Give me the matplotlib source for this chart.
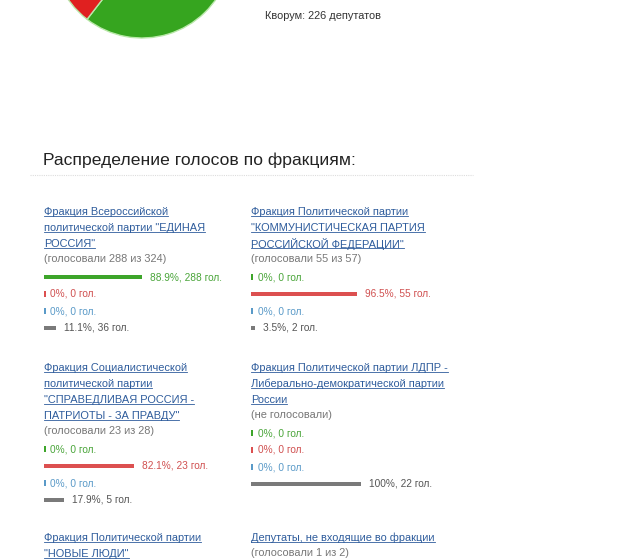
import matplotlib
matplotlib.use("Agg")
import matplotlib.pyplot as plt

plt.rcParams['font.family'] = ['Liberation Sans', 'DejaVu Sans']

pie_values = [272, 146, 0, 32]
pie_colors = ['#36a51f', '#e02020', '#3b8fd0', '#9a9a9a']

factions = [
    ["Фракция Всероссийской", "политической партии \"ЕДИНАЯ", "РОССИЯ\""],
    ["Фракция Политической партии", "\"КОММУНИСТИЧЕСКАЯ ПАРТИЯ", "РОССИЙСКОЙ ФЕДЕРАЦИИ\""],
    ["Фракция Социалистической", "политической партии", "\"СПРАВЕДЛИВАЯ РОССИЯ -", "ПАТРИОТЫ - ЗА ПРАВДУ\""],
    ["Фракция Политической партии ЛДПР -", "Либерально-демократической партии", "России"],
    ["Фракция Политической партии", "\"НОВЫЕ ЛЮДИ\""],
    ["Депутаты, не входящие во фракции"],
]
voted = ["(голосовали 288 из 324)", "(голосовали 55 из 57)", "(голосовали 23 из 28)",
         "(не голосовали)", None, "(голосовали 1 из 2)"]
# order: за, против, воздержались, не голосовали
pct = [[88.9, 0, 0, 11.1], [0, 96.5, 0, 3.5], [0, 82.1, 0, 17.9], [0, 0, 0, 100]]
votes = [[288, 0, 0, 36], [0, 55, 0, 2], [0, 23, 0, 5], [0, 0, 0, 22]]
pct_labels = [["88.9%", "0%", "0%", "11.1%"], ["0%", "96.5%", "0%", "3.5%"],
              ["0%", "82.1%", "0%", "17.9%"], ["0%", "0%", "0%", "100%"]]

bar_colors = ['#3da52a', '#dc5050', '#5a9ac8', '#7a7a7a']
text_colors = ['#4aa53a', '#d05050', '#5a9ac8', '#555555']
link = '#2e5c9c'

fig = plt.figure(figsize=(6.25, 5.6), dpi=100)
ax = fig.add_axes([0, 0, 1, 1])

ax.pie(pie_values, colors=pie_colors, center=(142, -52), radius=90, startangle=-90,
       counterclock=True, wedgeprops=dict(linewidth=1, edgecolor='#b8e8a8'))
ax.set_xlim(0, 625)
ax.set_ylim(560, 0)
ax.set_aspect('auto')
ax.axis('off')

ax.text(265, 16, "Кворум: 226 депутатов", fontsize=7.9, color='#333333', va='center')
ax.text(43, 160, "Распределение голосов по фракциям:", fontsize=12.6, color='#222222', va='center')
ax.plot([30, 473], [175, 175], color='#dddddd', lw=0.8, ls=(0, (1, 1)))

lh = 16
fs = 7.9
blocks = [(44, 212), (251, 212), (44, 368), (251, 368), (44, 538), (251, 538)]
texts_to_underline = []
for i, (x0, y0) in enumerate(blocks):
    y = y0
    for line in factions[i]:
        t = ax.text(x0, y, line, fontsize=fs, color=link, va='center')
        texts_to_underline.append(t)
        y += lh
    if voted[i] is not None:
        ax.text(x0, y - 1, voted[i], fontsize=fs, color='#777777', va='center')
        y += 17
    if i < 4:
        for k in range(4):
            w = max(pct[i][k] * 1.1, 1.5)
            ax.barh(y, w, left=x0, height=4.5 if pct[i][k] > 0 else 6, color=bar_colors[k])
            ax.text(x0 + w + (8 if pct[i][k] > 0 else 5), y, f"{pct_labels[i][k]}, {votes[i][k]} гол.",
                    fontsize=7.3, color=text_colors[k], va='center')
            y += 17

fig.canvas.draw()
r = fig.canvas.get_renderer()
inv = ax.transData.inverted()
for t in texts_to_underline:
    bb = t.get_window_extent(r)
    (xa, ya), (xb, yb) = inv.transform([(bb.x0, bb.y0), (bb.x1, bb.y1)])
    ax.plot([xa, xb], [ya - 1.5, ya - 1.5], color=link, lw=0.6)

fig.savefig("out.png", dpi=100, facecolor='white')
